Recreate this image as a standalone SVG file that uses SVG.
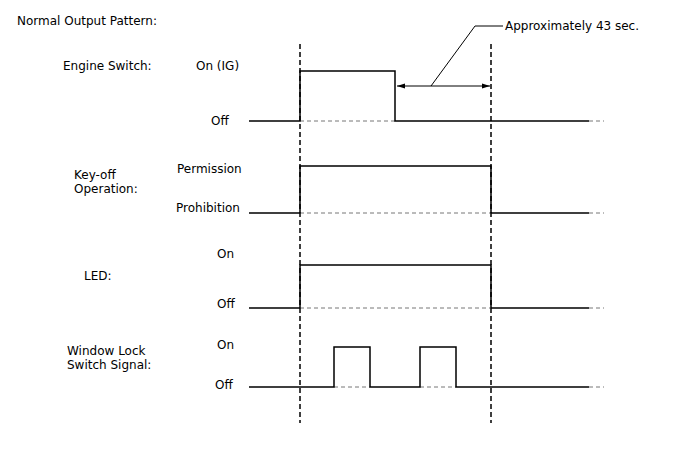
<svg xmlns="http://www.w3.org/2000/svg" width="688" height="463" viewBox="0 0 688 463">
<style>
text{font-family:"DejaVu Sans",sans-serif;font-size:12px;fill:#000}
.sig{fill:none;stroke:#000;stroke-width:1.5}
.ref{fill:none;stroke:#777;stroke-width:1;stroke-dasharray:4 3}
.mark{fill:none;stroke:#000;stroke-width:1.5;stroke-dasharray:5 3}
.thin{fill:none;stroke:#000;stroke-width:1}
</style>
<defs>
<marker id="ah" viewBox="0 0 10 10" refX="10" refY="5" markerWidth="8" markerHeight="8" orient="auto-start-reverse" markerUnits="userSpaceOnUse">
<path d="M0,2 L10,5 L0,8 Z" fill="#000"/>
</marker>
</defs>
<rect width="688" height="463" fill="#fff"/>
<text x="17" y="25">Normal Output Pattern:</text>
<g id="timemarks">
<line class="mark" x1="300" y1="44" x2="300" y2="423"/>
<line class="mark" x1="491" y1="44" x2="491" y2="423"/>
</g>
<g id="engine-switch">
<text x="63" y="70">Engine Switch:</text>
<text x="196" y="70">On (IG)</text>
<text x="211" y="125">Off</text>
<path class="ref" d="M300,121 H395 M589,121 H604"/>
<path class="sig" d="M249,121 H300 V71 H395 V121 H589"/>
</g>
<g id="key-off">
<text x="74" y="179">Key-off</text>
<text x="74" y="193">Operation:</text>
<text x="177" y="173">Permission</text>
<text x="176" y="212">Prohibition</text>
<path class="ref" d="M300,213 H491 M589,213 H604"/>
<path class="sig" d="M249,213 H300 V166 H491 V213 H589"/>
</g>
<g id="led">
<text x="84" y="280">LED:</text>
<text x="217" y="258">On</text>
<text x="217" y="308">Off</text>
<path class="ref" d="M300,308 H491 M589,308 H604"/>
<path class="sig" d="M249,308 H300 V265 H491 V308 H589"/>
</g>
<g id="window-lock">
<text x="67" y="355">Window Lock</text>
<text x="67" y="369">Switch Signal:</text>
<text x="217" y="349">On</text>
<text x="215" y="389">Off</text>
<path class="ref" d="M334,387 H370 M420,387 H456 M589,387 H604"/>
<path class="sig" d="M249,387 H334 V347 H370 V387 H420 V347 H456 V387 H589"/>
</g>
<g id="connectors">
<line class="thin" x1="397" y1="86" x2="490" y2="86" marker-start="url(#ah)" marker-end="url(#ah)"/>
<path class="thin" d="M431,86 L475,26 H503"/>
</g>
<text x="505" y="30">Approximately 43 sec.</text>
</svg>
